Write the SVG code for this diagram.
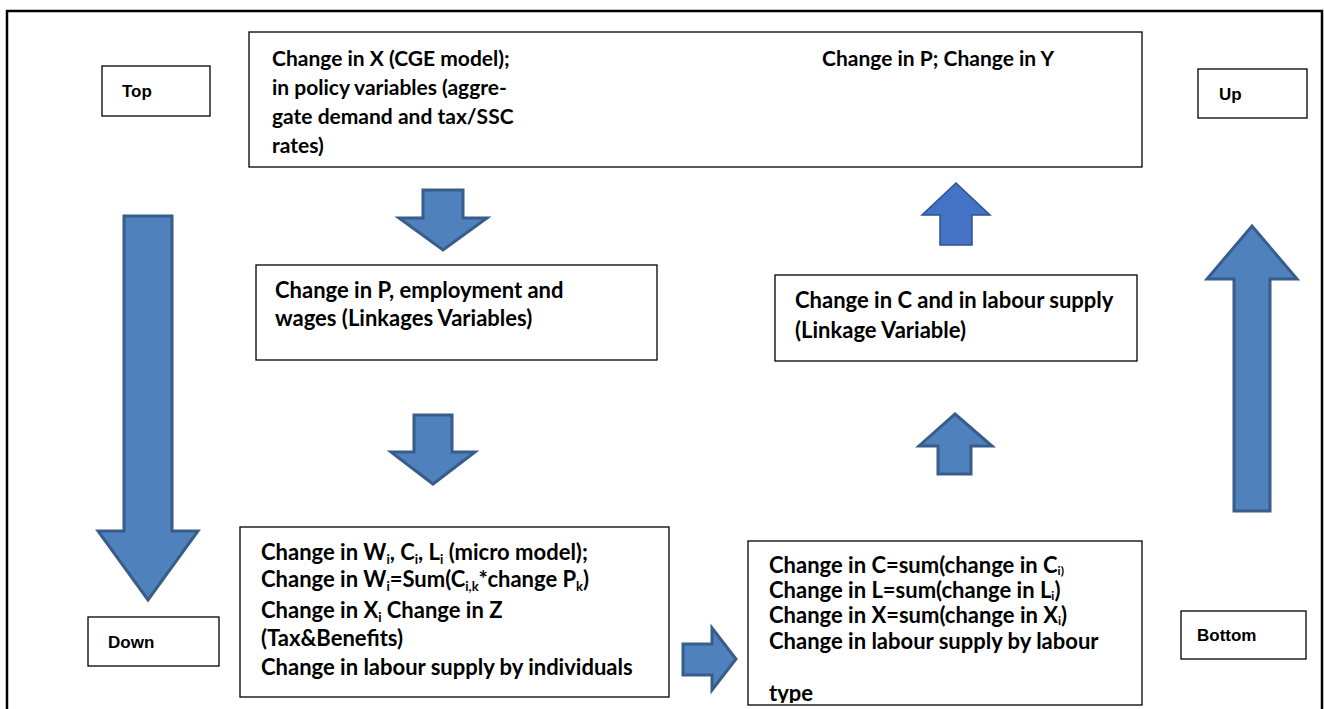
<svg xmlns="http://www.w3.org/2000/svg" width="1324" height="709" viewBox="0 0 1324 709">
<style>
.box{fill:#fff;stroke:#000;stroke-width:1.3}
.t{font-family:Lato,"Liberation Sans",sans-serif;font-weight:bold;font-size:22px;fill:#000}
.t1{font-size:21px}
.lbl{font-family:"Liberation Sans",Arial,sans-serif;font-weight:bold;font-size:17px;fill:#000}
.arr{fill:#4F81BD;stroke:#385D8A;stroke-width:3;stroke-linejoin:miter}
.arr2{fill:#4472C4;stroke:#2F528F;stroke-width:1.5}
.sub{font-size:13px}
.sub2{font-size:12px}
</style>
<defs>
<clipPath id="clip4"><rect x="748" y="541" width="394" height="162"/></clipPath>
</defs>
<path d="M7,709 V11 H1322 V709" fill="none" stroke="#000" stroke-width="2.5"/>
<g id="top-label">
<rect class="box" x="102" y="66" width="108" height="50"/>
<text class="lbl" x="122" y="97">Top</text>
</g>
<g id="up-label">
<rect class="box" x="1198" y="69" width="109" height="49"/>
<text class="lbl" x="1219" y="100">Up</text>
</g>
<g id="down-label">
<rect class="box" x="88" y="617" width="131" height="49"/>
<text class="lbl" x="108" y="648">Down</text>
</g>
<g id="bottom-label">
<rect class="box" x="1181" y="611" width="125" height="48"/>
<text class="lbl" x="1197" y="641">Bottom</text>
</g>
<g id="macro-box">
<rect class="box" x="249" y="32" width="893" height="135"/>
<text class="t t1" x="272" y="66">Change in X (CGE model);</text>
<text class="t t1" x="272" y="95">in policy variables (aggre-</text>
<text class="t t1" x="272" y="124">gate demand and tax/SSC</text>
<text class="t t1" x="272" y="153">rates)</text>
<text class="t t1" x="822" y="66">Change in P; Change in Y</text>
</g>
<g id="linkage-down-box">
<rect class="box" x="256" y="265" width="401" height="95"/>
<text class="t" x="275" y="298">Change in P, employment and</text>
<text class="t" x="275" y="326">wages (Linkages Variables)</text>
</g>
<g id="linkage-up-box">
<rect class="box" x="775" y="275" width="362" height="86"/>
<text class="t" x="795" y="308">Change in C and in labour supply</text>
<text class="t" x="795" y="338">(Linkage Variable)</text>
</g>
<g id="micro-box">
<rect class="box" x="240" y="527" width="429" height="170"/>
<text class="t" x="261" y="560">Change in W<tspan class="sub" dy="4">i</tspan><tspan dy="-4">, C</tspan><tspan class="sub" dy="4">i</tspan><tspan dy="-4">, L</tspan><tspan class="sub" dy="4">i</tspan><tspan dy="-4"> (micro model);</tspan></text>
<text class="t" x="261" y="587">Change in W<tspan class="sub" dy="4">i</tspan><tspan dy="-4">=Sum(C</tspan><tspan class="sub" dy="4">i,k</tspan><tspan dy="-4">*change P</tspan><tspan class="sub" dy="4">k</tspan><tspan dy="-4">)</tspan></text>
<text class="t" x="261" y="618">Change in X<tspan class="sub" dy="4">i</tspan><tspan dy="-4"> Change in Z</tspan></text>
<text class="t" x="261" y="646">(Tax&amp;Benefits)</text>
<text class="t" x="261" y="675">Change in labour supply by individuals</text>
</g>
<g id="aggregate-box">
<rect class="box" x="748" y="541" width="394" height="164"/>
<g clip-path="url(#clip4)">
<text class="t" x="769" y="573">Change in C=sum(change in C<tspan class="sub2" dy="2">i)</tspan></text>
<text class="t" x="769" y="598">Change in L=sum(change in L<tspan class="sub2" dy="2">i</tspan><tspan dy="-2">)</tspan></text>
<text class="t" x="769" y="623">Change in X=sum(change in X<tspan class="sub2" dy="2">i</tspan><tspan dy="-2">)</tspan></text>
<text class="t" x="769" y="649">Change in labour supply by labour</text>
<text class="t" x="769" y="701">type</text>
</g>
</g>
<g id="connectors">
<polygon class="arr" points="423,190 463,190 463,218 487,218 443,250 399,218 423,218"/>
<polygon class="arr" points="414,415 452,415 452,452 475,452 433,484 391,452 414,452"/>
<polygon class="arr" points="124,216 172,216 172,531 198,531 148,600 98,531 124,531"/>
<polygon class="arr" points="683,644 712,644 712,628 736,659 712,690 712,675 683,675"/>
<polygon class="arr2" points="956,183 990,215 972,215 972,245 940,245 940,215 922,215"/>
<polygon class="arr" points="955,414 992,446 971,446 971,474 938,474 938,446 919,446"/>
<polygon class="arr" points="1252,226 1297,279 1270,279 1270,511 1234,511 1234,279 1207,279"/>
</g>
</svg>
